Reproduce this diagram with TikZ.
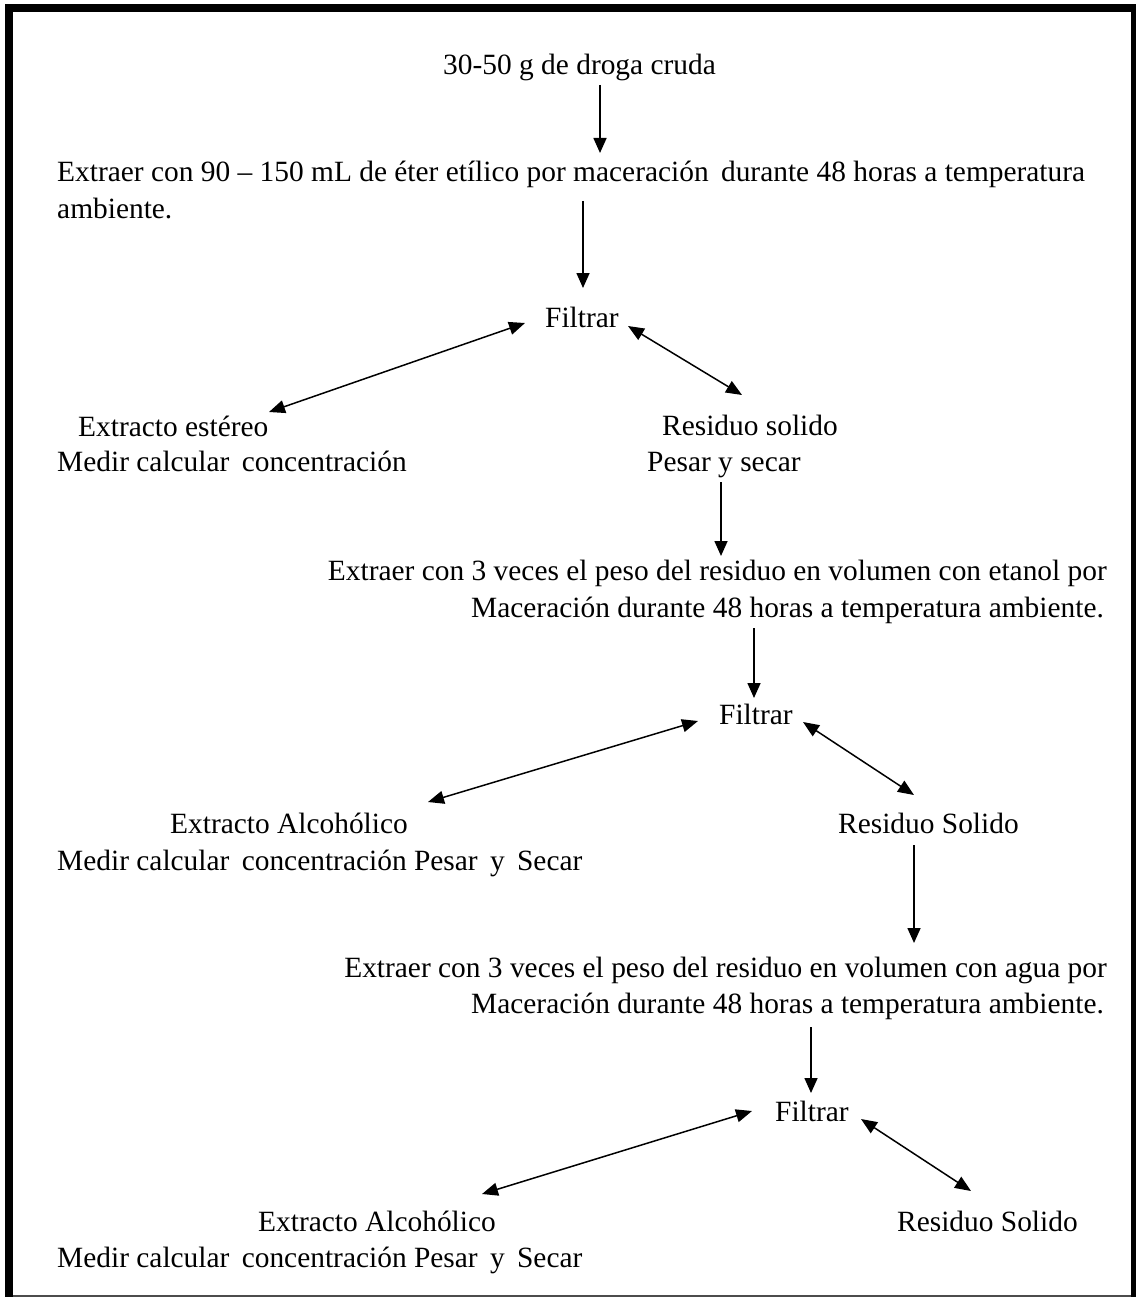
\documentclass[tikz,border=0pt]{standalone}
\usepackage{fontspec}
\setmainfont{Liberation Serif}
\usetikzlibrary{arrows.meta}
\newcommand{\dsp}{\hspace{0.42em}}
\begin{document}
\begin{tikzpicture}[x=1pt,y=-1pt,
  txt/.style={inner sep=0pt, font=\fontsize{29.4}{36}\selectfont},
  arr/.style={-{Triangle[length=15pt,width=13pt]}, line width=1.6pt},
  darr/.style={{Triangle[length=16pt,width=13pt]}-{Triangle[length=16pt,width=13pt]}, line width=1.5pt},
  frame/.style={fill=black, draw=none}]
\useasboundingbox (0,0) rectangle (1136,1297);
% frame
\fill[frame] (5,4.3) rectangle (1136,12);
\fill[frame] (5,4.3) rectangle (12.7,1297);
\fill[frame] (1131,4.3) rectangle (1136,1297);
\fill[black!70] (12.7,1294.5) rectangle (1131,1296.5);
% texts
\node[txt, anchor=base west] (t1) at (443,75) {30-50 g de droga cruda};
\node[txt, anchor=base west] (t2a) at (57,182) {Extraer con 90 – 150 mL de éter etílico por maceración\dsp durante 48 horas a temperatura};
\node[txt, anchor=base west] (t2b) at (57,219) {ambiente.};
\node[txt, anchor=base west] (f1) at (545,327) {Filtrar};
\node[txt, anchor=base west] (e1a) at (78,436) {Extracto estéreo};
\node[txt, anchor=base west] (e1b) at (57,471) {Medir calcular\dsp concentración};
\node[txt, anchor=base west] (r1a) at (662,435) {Residuo solido};
\node[txt, anchor=base west] (r1b) at (647,471) {Pesar y secar};
\node[txt, anchor=base east] (t3a) at (1107,580) {Extraer con 3 veces el peso del residuo en volumen con etanol por};
\node[txt, anchor=base east] (t3b) at (1104,617) {Maceración durante 48 horas a temperatura ambiente.};
\node[txt, anchor=base west] (f2) at (719,724) {Filtrar};
\node[txt, anchor=base west] (e2a) at (170,833) {Extracto Alcohólico};
\node[txt, anchor=base west] (e2b) at (57,870) {Medir calcular\dsp concentración Pesar\dsp y\dsp Secar};
\node[txt, anchor=base west] (r2) at (838,833) {Residuo Solido};
\node[txt, anchor=base east] (t4a) at (1107,977) {Extraer con 3 veces el peso del residuo en volumen con agua por};
\node[txt, anchor=base east] (t4b) at (1104,1013) {Maceración durante 48 horas a temperatura ambiente.};
\node[txt, anchor=base west] (f3) at (775,1121) {Filtrar};
\node[txt, anchor=base west] (e3a) at (258,1231) {Extracto Alcohólico};
\node[txt, anchor=base west] (e3b) at (57,1267) {Medir calcular\dsp concentración Pesar\dsp y\dsp Secar};
\node[txt, anchor=base west] (r3) at (897,1231) {Residuo Solido};
% connector end points
\coordinate (a1s) at (600,85);   \coordinate (a1e) at (600,153);
\coordinate (a2s) at (583,201);  \coordinate (a2e) at (583,288);
\coordinate (d1a) at (525,323);  \coordinate (d1b) at (269,412);
\coordinate (d1c) at (628,326);  \coordinate (d1d) at (742,395);
\coordinate (a3s) at (721,482);  \coordinate (a3e) at (721,556);
\coordinate (a4s) at (754,628);  \coordinate (a4e) at (754,698);
\coordinate (d2a) at (698,721);  \coordinate (d2b) at (428,802);
\coordinate (d2c) at (803,722);  \coordinate (d2d) at (914,795);
\coordinate (a5s) at (914,845);  \coordinate (a5e) at (914,943);
\coordinate (a6s) at (811,1027); \coordinate (a6e) at (811,1093);
\coordinate (d3a) at (752,1111); \coordinate (d3b) at (482,1194);
\coordinate (d3c) at (861,1119); \coordinate (d3d) at (971,1191);
% connectors
\draw[arr] (a1s) -- (a1e);
\draw[arr] (a2s) -- (a2e);
\draw[darr] (d1a) -- (d1b);
\draw[darr] (d1c) -- (d1d);
\draw[arr] (a3s) -- (a3e);
\draw[arr] (a4s) -- (a4e);
\draw[darr] (d2a) -- (d2b);
\draw[darr] (d2c) -- (d2d);
\draw[arr] (a5s) -- (a5e);
\draw[arr] (a6s) -- (a6e);
\draw[darr] (d3a) -- (d3b);
\draw[darr] (d3c) -- (d3d);
\end{tikzpicture}
\end{document}
